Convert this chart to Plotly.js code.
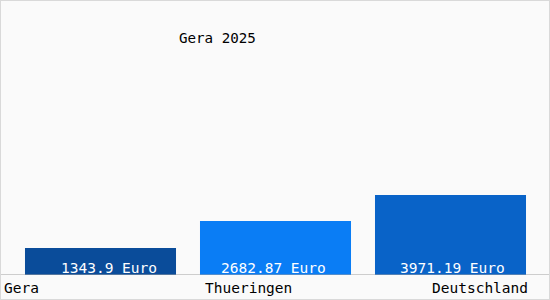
<!DOCTYPE html>
<html>
<head>
<meta charset="utf-8">
<script src="https://cdn.plot.ly/plotly-3.0.1.min.js"></script>
<style>
html, body { margin: 0; padding: 0; background: #ffffff; }
#chart { width: 550px; height: 300px; box-sizing: border-box; border: 1px solid #d9d9d9; background: #fafafa; }
</style>
</head>
<body>
<div id="chart"></div>
<script>
// Data
const categories = ["Gera", "Thueringen", "Deutschland"];
const values = [1343.9, 2682.87, 3971.19];
const valueLabels = ["1343.9 Euro", "2682.87 Euro", "3971.19 Euro"];
const chartTitle = "Gera 2025";

// Styles
const barColors = ["#0a4c9a", "#0a7df5", "#0963c8"];
const FONT = "DejaVu Sans Mono, monospace";
const labelShift = [8, -2, 2];

const trace = {
  type: "bar",
  x: categories,
  y: values,
  marker: { color: barColors, line: { width: 0 } },
  hoverinfo: "none"
};

const annotations = [];
categories.forEach((c, i) => {
  annotations.push({
    x: c, y: 0, xref: "x", yref: "y",
    text: valueLabels[i],
    showarrow: false,
    xanchor: "center", yanchor: "bottom",
    xshift: labelShift[i], yshift: -3,
    font: { family: FONT, size: 14.5, color: "#ffffff" }
  });
});
// category labels (custom placement like reference)
annotations.push({
  x: categories[0], y: 0, xref: "x", yref: "y", text: categories[0], showarrow: false,
  xanchor: "left", yanchor: "top", xshift: -98.5, yshift: -3,
  font: { family: FONT, size: 14.5, color: "#000000" }
});
annotations.push({
  x: categories[1], y: 0, xref: "x", yref: "y", text: categories[1], showarrow: false,
  xanchor: "left", yanchor: "top", xshift: -72.5, yshift: -3,
  font: { family: FONT, size: 14.5, color: "#000000" }
});
annotations.push({
  x: categories[2], y: 0, xref: "x", yref: "y", text: categories[2], showarrow: false,
  xanchor: "right", yanchor: "top", xshift: 79.5, yshift: -3,
  font: { family: FONT, size: 14.5, color: "#000000" }
});

const layout = {
  width: 548,
  height: 298,
  margin: { l: 12, r: 11, t: 50, b: 24, pad: 0, autoexpand: false },
  paper_bgcolor: "#fafafa",
  plot_bgcolor: "#fafafa",
  showlegend: false,
  bargap: 0.137,
  title: {
    text: chartTitle,
    font: { family: FONT, size: 14.2, color: "#000000" },
    xref: "container", x: 178 / 548, xanchor: "left",
    yref: "container", y: 1 - 32 / 298, yanchor: "top"
  },
  xaxis: {
    type: "category",
    range: [-0.5, 2.5],
    autorange: false,
    showticklabels: false,
    showgrid: false,
    zeroline: false,
    showline: false,
    ticks: "",
    fixedrange: true,
    automargin: false
  },
  yaxis: {
    range: [0, 11128],
    autorange: false,
    showticklabels: false,
    showgrid: false,
    zeroline: false,
    showline: false,
    ticks: "",
    fixedrange: true,
    automargin: false
  },
  shapes: [{
    type: "line", xref: "paper", yref: "y",
    x0: -0.03, x1: 1.03, y0: 0, y1: 0,
    line: { color: "#a0a0a0", width: 1 },
    layer: "above"
  }],
  annotations: annotations
};

Plotly.newPlot("chart", [trace], layout, { staticPlot: true, displayModeBar: false });
</script>
</body>
</html>
